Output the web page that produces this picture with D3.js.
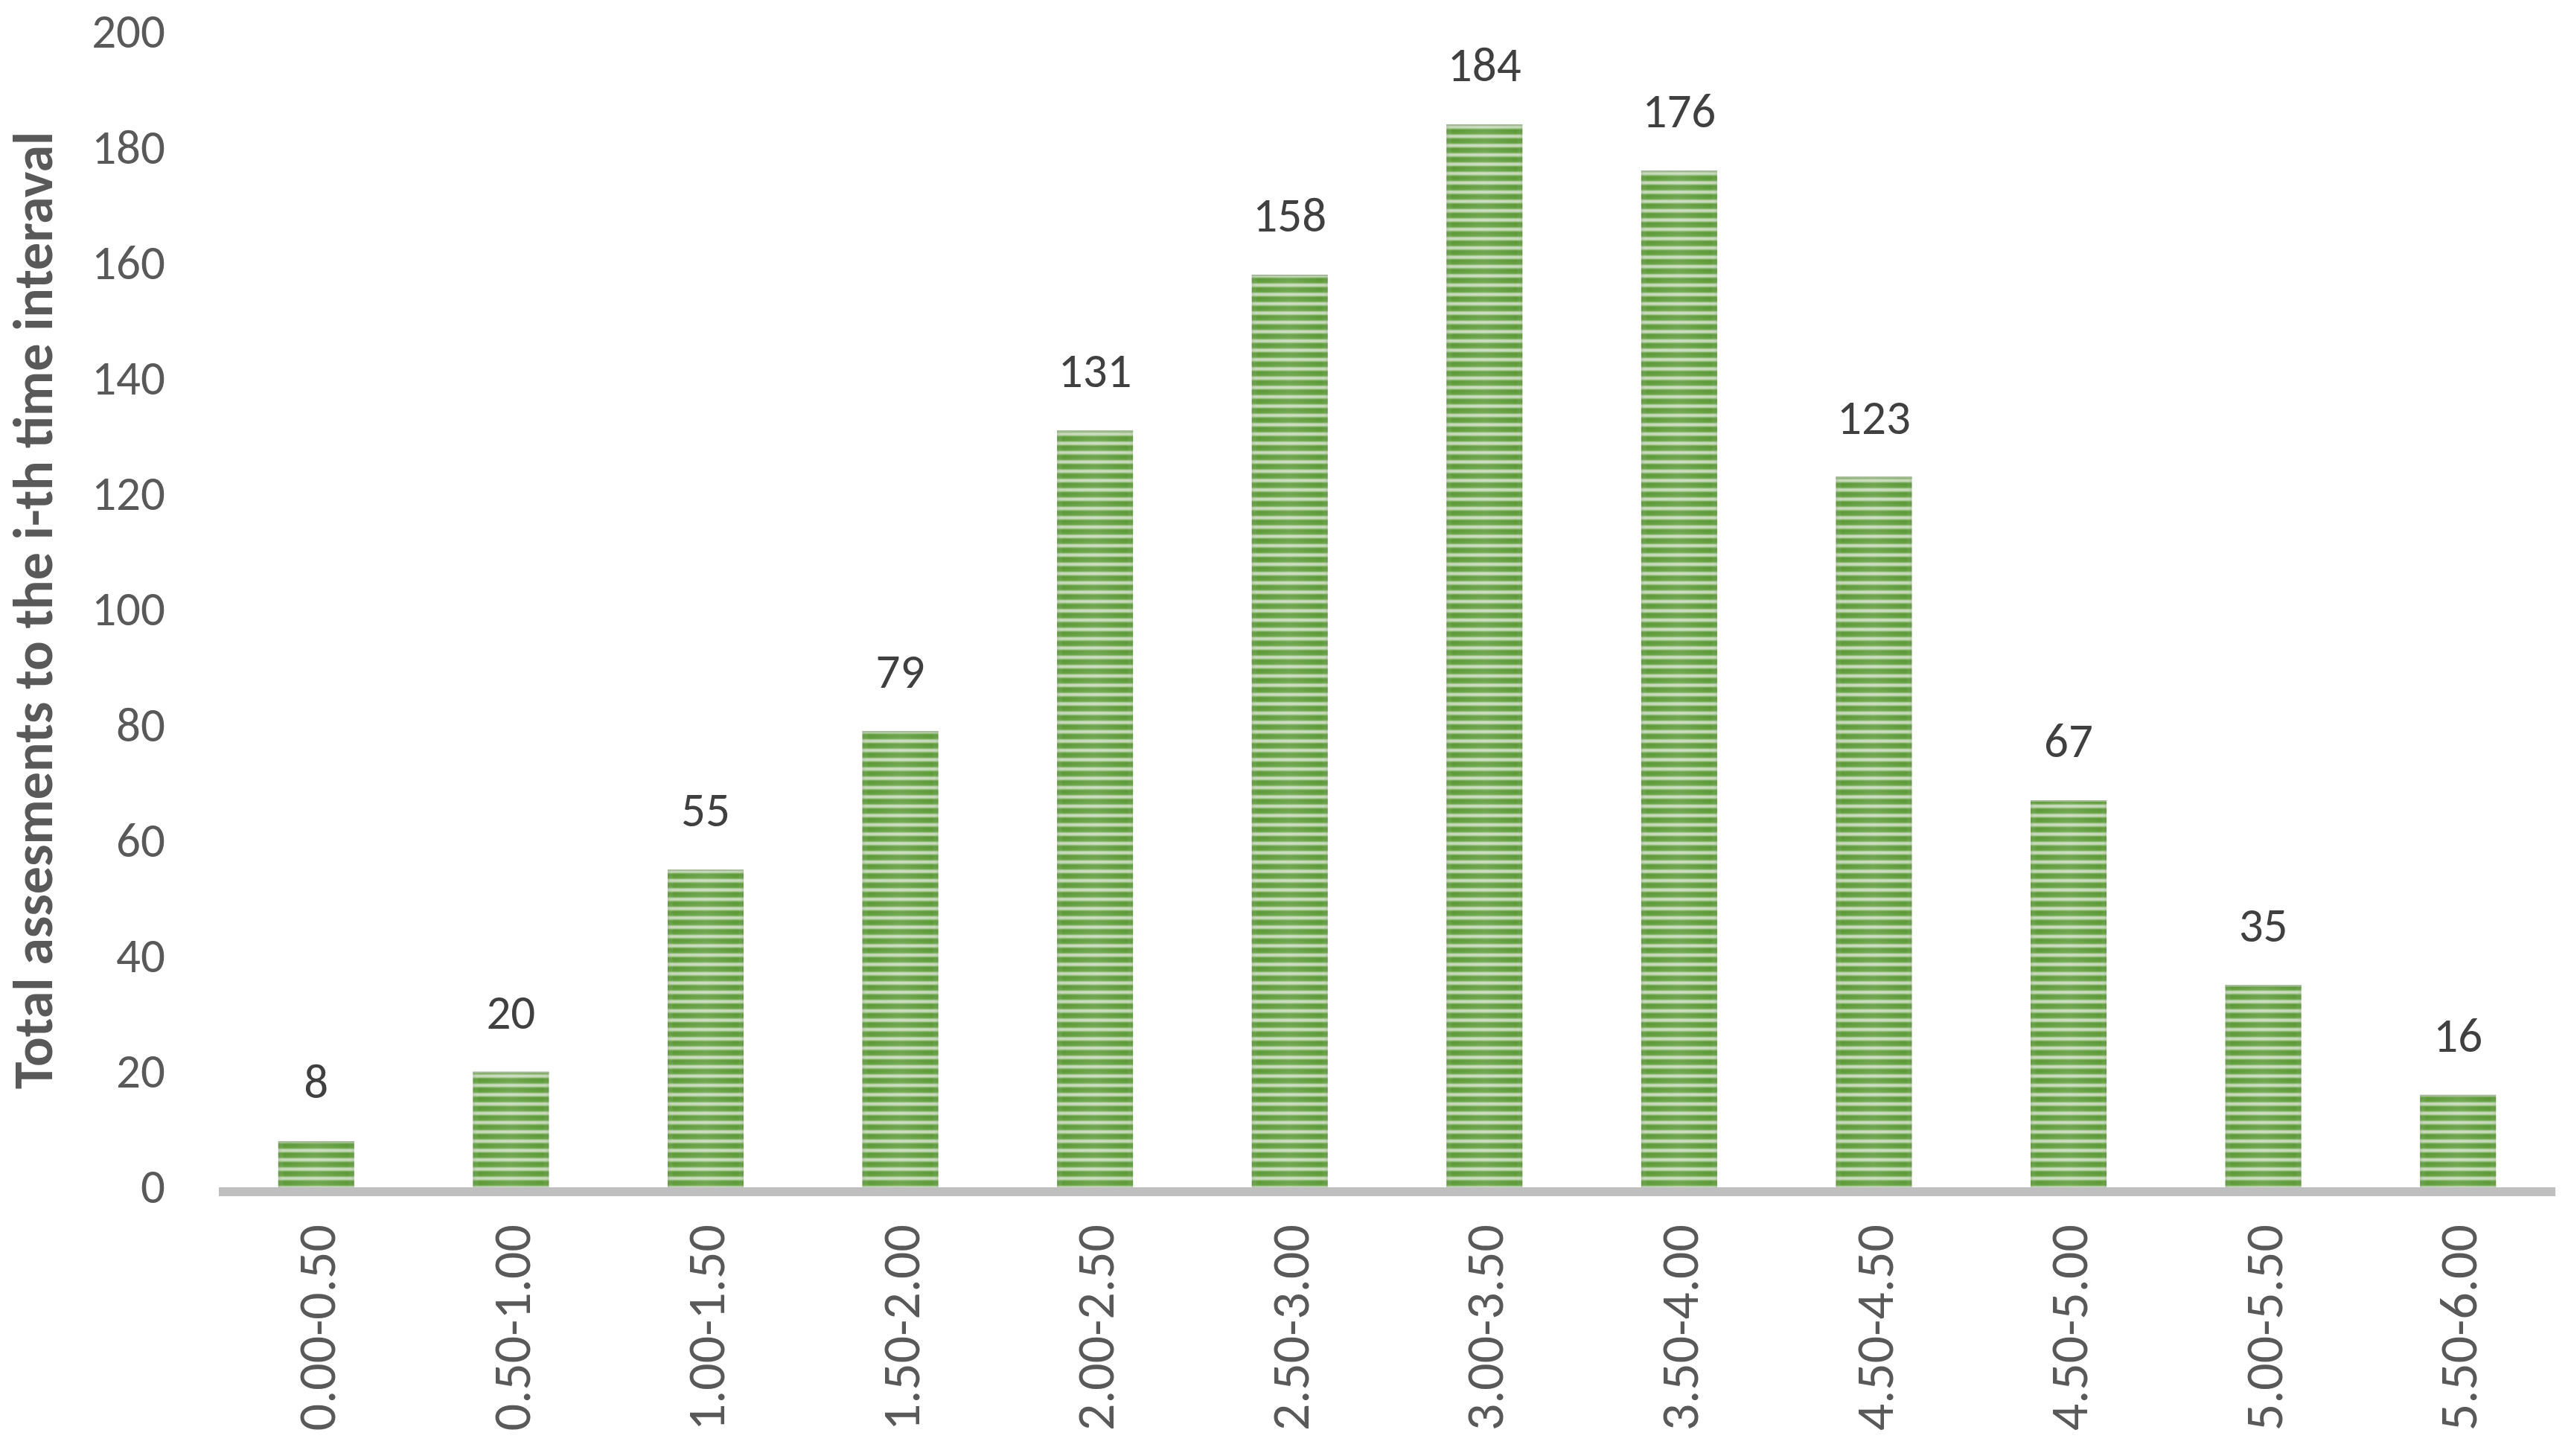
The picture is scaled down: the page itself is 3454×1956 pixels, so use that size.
<!DOCTYPE html>
<html>
<head>
<meta charset="utf-8">
<script src="https://cdn.jsdelivr.net/npm/d3@7"></script>
<style>
  html, body { margin: 0; padding: 0; background: #ffffff; }
  svg { display: block; }
  text { font-family: Carlito, Lato, "Open Sans", sans-serif; }
</style>
</head>
<body>
<svg id="chart"></svg>
<script>
const intervals = ["0.00-0.50", "0.50-1.00", "1.00-1.50", "1.50-2.00", "2.00-2.50", "2.50-3.00",
  "3.00-3.50", "3.50-4.00", "4.50-4.50", "4.50-5.00", "5.00-5.50", "5.50-6.00"];
const totals = [8, 20, 55, 79, 131, 158, 184, 176, 123, 67, 35, 16];
const yTicks = [0, 20, 40, 60, 80, 100, 120, 140, 160, 180, 200];
const yTitle = "Total assesments to the i-th time interaval";

const dataset = intervals.map((d, i) => ({"interval": d, "total": totals[i]}));

const canvasWidth = 3454;
const canvasHeight = 1956;
const margins = {"left": 294, "right": 21, "top": 43, "bottom": 361};

var svg = d3.select("#chart")
            .attr("width", canvasWidth)
            .attr("height", canvasHeight);

// stripe pattern for the bars
var defs = svg.append("defs");
var stripe = defs.append("linearGradient")
                 .attr("id", "stripeGrad")
                 .attr("x1", 0).attr("y1", 0).attr("x2", 0).attr("y2", 1);
stripe.append("stop").attr("offset", "0%").attr("stop-color", "#5a9636");
stripe.append("stop").attr("offset", "38%").attr("stop-color", "#64a140");
stripe.append("stop").attr("offset", "55%").attr("stop-color", "#c9dcbd");
stripe.append("stop").attr("offset", "75%").attr("stop-color", "#c3d8b5");
stripe.append("stop").attr("offset", "90%").attr("stop-color", "#6fa64d");
stripe.append("stop").attr("offset", "100%").attr("stop-color", "#5a9636");

var pattern = defs.append("pattern")
                  .attr("id", "stripes")
                  .attr("patternUnits", "userSpaceOnUse")
                  .attr("width", 20)
                  .attr("height", 12.5);
pattern.append("rect")
       .attr("width", 20).attr("height", 12.5)
       .attr("fill", "url(#stripeGrad)");

var sheen = defs.append("linearGradient")
                .attr("id", "sheen")
                .attr("x1", 0).attr("y1", 0).attr("x2", 1).attr("y2", 0);
sheen.append("stop").attr("offset", "0%").attr("stop-color", "#7a8a70").attr("stop-opacity", 0.25);
sheen.append("stop").attr("offset", "8%").attr("stop-color", "#ffffff").attr("stop-opacity", 0);
sheen.append("stop").attr("offset", "50%").attr("stop-color", "#ffffff").attr("stop-opacity", 0.12);
sheen.append("stop").attr("offset", "92%").attr("stop-color", "#ffffff").attr("stop-opacity", 0);
sheen.append("stop").attr("offset", "100%").attr("stop-color", "#7a8a70").attr("stop-opacity", 0.2);

// scales
const xScale = d3.scaleBand()
                 .domain(intervals)
                 .range([margins.left, canvasWidth - margins.right])
                 .paddingInner(0.61)
                 .paddingOuter(0.305);

const yScale = d3.scaleLinear()
                 .domain([0, 200])
                 .range([canvasHeight - margins.bottom, margins.top]);

// y axis labels only
const yAxis = d3.axisLeft(yScale)
                .tickValues(yTicks)
                .tickSize(0)
                .tickPadding(72);

var gy = svg.append("g")
            .attr("id", "y-axis")
            .attr("transform", "translate(" + margins.left + ",0)")
            .call(yAxis);
gy.select(".domain").remove();
gy.selectAll("text")
  .attr("fill", "#595959")
  .style("font-size", "65px");

// bars
var g = svg.append("g").attr("class", "bars");
g.selectAll("rect.bar")
 .data(dataset)
 .enter()
 .append("rect")
 .attr("class", "bar")
 .attr("x", d => xScale(d.interval))
 .attr("y", d => yScale(d.total))
 .attr("width", xScale.bandwidth())
 .attr("height", d => yScale(0) - yScale(d.total))
 .attr("fill", "url(#stripes)");

g.selectAll("rect.sheen")
 .data(dataset)
 .enter()
 .append("rect")
 .attr("class", "sheen")
 .attr("x", d => xScale(d.interval))
 .attr("y", d => yScale(d.total))
 .attr("width", xScale.bandwidth())
 .attr("height", d => yScale(0) - yScale(d.total))
 .attr("fill", "url(#sheen)");

// thin top edge of each bar
g.selectAll("line.edge")
 .data(dataset)
 .enter()
 .append("line")
 .attr("class", "edge")
 .attr("x1", d => xScale(d.interval))
 .attr("x2", d => xScale(d.interval) + xScale.bandwidth())
 .attr("y1", d => yScale(d.total) + 1)
 .attr("y2", d => yScale(d.total) + 1)
 .attr("stroke", "#a7b89c")
 .attr("stroke-width", 2);

// x axis
const xAxis = d3.axisBottom(xScale)
                .tickSize(0)
                .tickPadding(0);

var gx = svg.append("g")
            .attr("id", "x-axis")
            .attr("transform", "translate(0," + yScale(0) + ")")
            .call(xAxis);
gx.select(".domain")
  .attr("d", "M" + margins.left + ",6H" + (canvasWidth - margins.right))
  .attr("stroke", "#bfbfbf")
  .attr("stroke-width", 12);
gx.selectAll("text")
  .attr("transform", "rotate(-90)")
  .attr("x", -50)
  .attr("y", 0)
  .attr("dy", "0.35em")
  .attr("text-anchor", "end")
  .attr("fill", "#595959")
  .style("font-size", "72px");

// value labels
svg.append("g")
   .attr("class", "labels")
   .selectAll("text")
   .data(dataset)
   .enter()
   .append("text")
   .attr("x", d => xScale(d.interval) + xScale.bandwidth() / 2)
   .attr("y", d => yScale(d.total) - 58)
   .attr("text-anchor", "middle")
   .attr("fill", "#404040")
   .style("font-size", "65px")
   .text(d => d.total);

// y axis title
svg.append("text")
   .attr("transform", "translate(44," + ((margins.top + yScale(0)) / 2 + 1) + ") rotate(-90)")
   .attr("text-anchor", "middle")
   .attr("dy", "0.35em")
   .attr("fill", "#595959")
   .style("font-size", "74px")
   .style("font-weight", "bold")
   .text(yTitle);
</script>
</body>
</html>
